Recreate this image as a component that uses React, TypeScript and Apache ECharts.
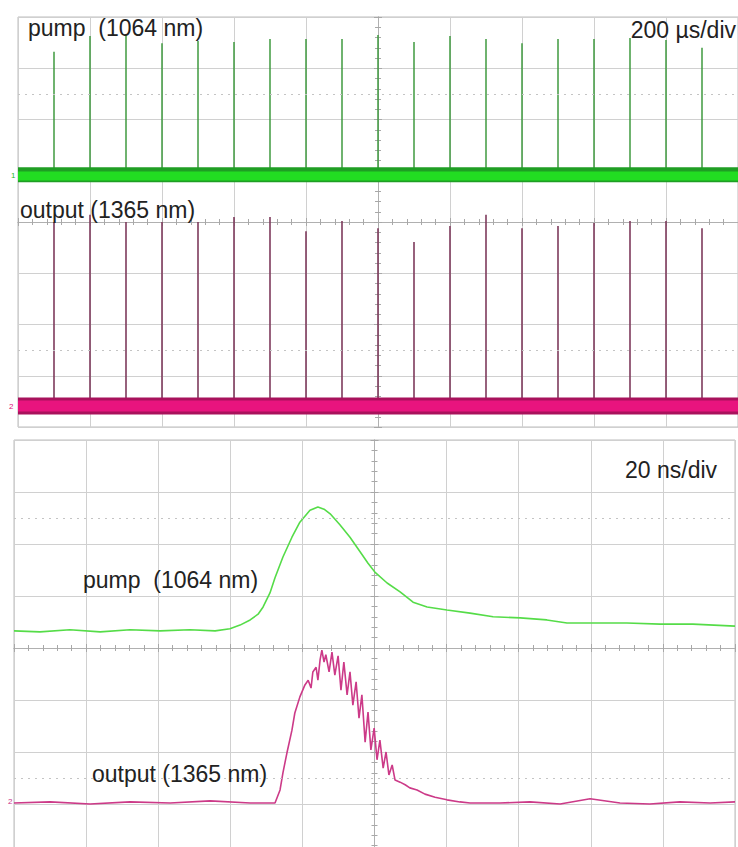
import React, { useEffect, useRef } from "react";
import * as echarts from "echarts";

// ---------- Upper screen: 200 µs/div, time relative to trigger (µs), amplitude in divisions ----------
const pulseTimes = [-900, -800, -700, -600, -500, -400, -300, -200, -100, 0, 100, 200, 300, 400, 500, 600, 700, 800, 900];
const pumpPeaks = [3.32, 3.63, 3.65, 3.49, 3.53, 3.51, 3.57, 3.57, 3.57, 3.65, 3.51, 3.63, 3.57, 3.49, 3.57, 3.57, 3.59, 3.55, 3.40];
const outputPeaks = [0.0, 0.14, 0.0, 0.0, 0.0, 0.1, 0.1, -0.18, 0.02, -0.12, -0.39, -0.08, 0.14, -0.12, -0.08, -0.02, 0.02, 0.02, -0.12];
const pumpBaseline = 0.92;
const outputBaseline = -3.59;

// ---------- Lower screen: 20 ns/div, time relative to trigger (ns), amplitude in divisions ----------
const pumpTimes = [-100, -92.8, -84.5, -76.1, -67.8, -59.5, -51.2, -44.2, -40.1, -37.3, -34.5, -32.3, -30.9, -29.0, -27.6, -25.4, -22.9, -20.7, -17.9, -15.7, -14.0, -12.3, -9.6, -6.8, -4.0, -1.8, 0.1, 3.5, 7.1, 10.7, 14.6, 20.1, 26.5, 32.9, 40.4, 47.8, 53.4, 60.6, 70.0, 79.2, 88.3, 100];
const pumpValues = [0.33, 0.31, 0.35, 0.31, 0.35, 0.33, 0.35, 0.33, 0.37, 0.44, 0.54, 0.65, 0.79, 1.06, 1.35, 1.75, 2.13, 2.42, 2.65, 2.71, 2.67, 2.58, 2.37, 2.13, 1.85, 1.63, 1.46, 1.25, 1.08, 0.88, 0.79, 0.73, 0.67, 0.6, 0.58, 0.54, 0.48, 0.48, 0.48, 0.46, 0.46, 0.42];

const outputTimes = [-100, -90.0, -78.9, -67.8, -56.7, -45.6, -34.5, -27.6, -26.2, -25.4, -24.3, -22.9, -22.1, -20.7, -19.3, -18.4, -17.6, -17.1, -16.2, -15.7, -15.1, -14.6, -14.0, -13.5, -12.6, -11.8, -11.0, -10.1, -9.3, -8.5, -7.6, -6.8, -6.0, -5.1, -4.3, -3.5, -2.6, -1.8, -1.0, -0.1, 0.7, 1.5, 2.4, 3.2, 4.0, 4.9, 5.7, 7.1, 8.5, 9.8, 11.8, 14.0, 16.8, 20.1, 23.7, 26.5, 34.8, 43.1, 51.5, 59.8, 68.1, 76.4, 84.7, 93.1, 100];
const outputValues = [-2.98, -2.96, -3.0, -2.96, -2.98, -2.94, -2.98, -2.98, -2.73, -2.4, -2.02, -1.58, -1.25, -0.94, -0.71, -0.62, -0.77, -0.46, -0.37, -0.62, -0.23, -0.04, -0.27, -0.13, -0.46, -0.08, -0.52, -0.15, -0.81, -0.27, -0.9, -0.46, -1.1, -0.65, -1.35, -0.9, -1.81, -1.23, -1.96, -1.54, -2.15, -1.77, -2.31, -2.0, -2.44, -2.25, -2.54, -2.58, -2.63, -2.69, -2.73, -2.81, -2.87, -2.92, -2.96, -2.98, -2.98, -2.96, -3.0, -2.9, -2.98, -3.0, -2.96, -2.98, -2.96];

const dottedLevels = [2.5, -2.5];
const FONT = '"Liberation Sans", Arial, sans-serif';

const spikeData = (times: number[], peaks: number[], base: number) => {
  const out: (number[])[] = [];
  times.forEach((t, i) => {
    out.push([t, base], [t, peaks[i]], [t, base]);
  });
  return out;
};

const mkX = (gridIndex: number, min: number, max: number, interval: number, position: string, grid: boolean) => ({
  type: "value",
  gridIndex,
  min,
  max,
  interval,
  position,
  axisLine: { show: true, onZero: true, lineStyle: { color: "#b0b0b0", width: 1 } },
  axisTick: { show: true, length: 4, lineStyle: { color: "#a8a8a8" } },
  minorTick: { show: true, splitNumber: 5, length: 3, lineStyle: { color: "#a8a8a8" } },
  axisLabel: { show: false },
  splitLine: { show: grid, lineStyle: { color: "#d0d0d0", width: 1 } },
  minorSplitLine: { show: false },
});

const mkY = (gridIndex: number, position: string, grid: boolean) => ({
  type: "value",
  gridIndex,
  min: -4,
  max: 4,
  interval: 1,
  position,
  axisLine: { show: true, onZero: true, lineStyle: { color: "#b0b0b0", width: 1 } },
  axisTick: { show: true, length: 4, lineStyle: { color: "#a8a8a8" } },
  minorTick: { show: true, splitNumber: 5, length: 3, lineStyle: { color: "#a8a8a8" } },
  axisLabel: { show: false },
  splitLine: { show: grid, lineStyle: { color: "#d0d0d0", width: 1 } },
  minorSplitLine: { show: false },
});

const dotted = {
  silent: true,
  symbol: "none",
  label: { show: false },
  lineStyle: { type: [2, 5], color: "#c4c4c4", width: 1 },
  data: dottedLevels.map((v) => ({ yAxis: v })),
};

const txt = (text: string, x: number, y: number, align = "left", size = 23, fill = "#222") => ({
  type: "text",
  x,
  y,
  z: 100,
  style: { text, fontSize: size, fontFamily: FONT, fill, align, verticalAlign: "middle" },
});

export default function App() {
  const ref = useRef<HTMLDivElement>(null);
  useEffect(() => {
    if (!ref.current) return;
    const chart = echarts.init(ref.current, null, { renderer: "svg" });
    const lineBase = { type: "line", symbol: "none", silent: true };
    chart.setOption({
      animation: false,
      backgroundColor: "#ffffff",
      grid: [
        { left: 18, top: 17, width: 720, height: 410, show: true, borderColor: "#bdbdbd", borderWidth: 1, backgroundColor: "#fff" },
        { left: 18, top: 17, width: 720, height: 410, show: false },
        { left: 14, top: 440, width: 721, height: 416, show: true, borderColor: "#bdbdbd", borderWidth: 1, backgroundColor: "#fff" },
        { left: 14, top: 440, width: 721, height: 416, show: false },
      ],
      xAxis: [
        mkX(0, -1000, 1000, 200, "bottom", true),
        mkX(1, -1000, 1000, 200, "top", false),
        mkX(2, -100, 100, 20, "bottom", true),
        mkX(3, -100, 100, 20, "top", false),
      ],
      yAxis: [mkY(0, "left", true), mkY(1, "right", false), mkY(2, "left", true), mkY(3, "right", false)],
      series: [
        {
          ...lineBase,
          name: "pump spikes",
          xAxisIndex: 0,
          yAxisIndex: 0,
          data: spikeData(pulseTimes, pumpPeaks, pumpBaseline),
          lineStyle: { color: "#3f9a3f", width: 1.5 },
          markLine: dotted,
          z: 3,
        },
        {
          ...lineBase,
          name: "output spikes",
          xAxisIndex: 0,
          yAxisIndex: 0,
          data: spikeData(pulseTimes, outputPeaks, outputBaseline),
          lineStyle: { color: "#7e3a5c", width: 1.6 },
          z: 3,
        },
        {
          ...lineBase,
          name: "pump band",
          xAxisIndex: 0,
          yAxisIndex: 0,
          data: [[-1000, pumpBaseline], [1000, pumpBaseline]],
          lineStyle: { color: "#1f9e24", width: 15, cap: "butt" },
          z: 4,
        },
        {
          ...lineBase,
          name: "pump band core",
          xAxisIndex: 0,
          yAxisIndex: 0,
          data: [[-1000, pumpBaseline - 0.02], [1000, pumpBaseline - 0.02]],
          lineStyle: { color: "#22dd22", width: 9, cap: "butt" },
          z: 5,
        },
        {
          ...lineBase,
          name: "output band",
          xAxisIndex: 0,
          yAxisIndex: 0,
          data: [[-1000, outputBaseline], [1000, outputBaseline]],
          lineStyle: { color: "#a8125c", width: 17, cap: "butt" },
          z: 4,
        },
        {
          ...lineBase,
          name: "output band core",
          xAxisIndex: 0,
          yAxisIndex: 0,
          data: [[-1000, outputBaseline], [1000, outputBaseline]],
          lineStyle: { color: "#e8147e", width: 11, cap: "butt" },
          z: 5,
        },
        {
          ...lineBase,
          name: "pump pulse",
          xAxisIndex: 2,
          yAxisIndex: 2,
          data: pumpTimes.map((t, i) => [t, pumpValues[i]]),
          lineStyle: { color: "#55dc48", width: 1.6 },
          markLine: dotted,
          z: 3,
        },
        {
          ...lineBase,
          name: "output pulse",
          xAxisIndex: 2,
          yAxisIndex: 2,
          data: outputTimes.map((t, i) => [t, outputValues[i]]),
          lineStyle: { color: "#cc3a88", width: 1.6 },
          z: 3,
        },
      ],
      graphic: [
        txt("pump  (1064 nm)", 28, 28),
        txt("200 µs/div", 736, 30, "right"),
        txt("output (1365 nm)", 20, 210),
        txt("20 ns/div", 625, 470),
        txt("pump  (1064 nm)", 83, 580),
        txt("output (1365 nm)", 92, 774),
        txt("1", 11, 175, "left", 8, "#22bb22"),
        txt("2", 9, 406, "left", 8, "#dd1177"),
        txt("2", 8, 801, "left", 8, "#cc3388"),
      ],
    });
    return () => chart.dispose();
  }, []);
  return (
    <div style={{ position: "absolute", left: 0, top: 0, width: 738, height: 847, overflow: "hidden" }}>
      <div ref={ref} style={{ width: 738, height: 862 }} />
    </div>
  );
}
